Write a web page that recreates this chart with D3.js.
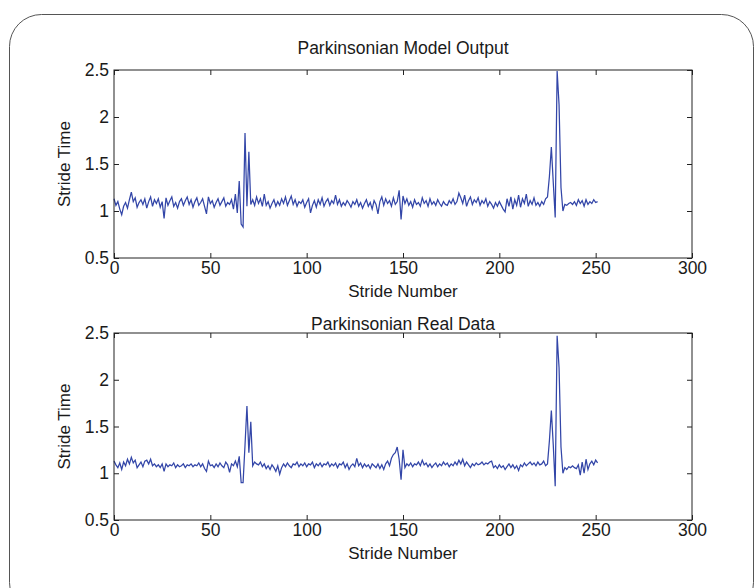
<!DOCTYPE html>
<html>
<head>
<meta charset="utf-8">
<script src="https://cdn.jsdelivr.net/npm/d3@7"></script>
<style>
  html, body { margin: 0; padding: 0; background: #ffffff; }
  svg { display: block; }
  text { font-family: "Liberation Sans", Arial, sans-serif; fill: #1a1a1a; }
</style>
</head>
<body>
<svg id="chart" width="755" height="588"></svg>
<script>
// Stride times (s) for each stride, index = stride number
const modelOutput = [
  1.13, 1.06, 1.10, 1.02, 0.96, 1.05, 1.09, 1.03, 1.12, 1.20,
  1.10, 1.14, 1.04, 1.09, 1.12, 1.07, 1.13, 1.03, 1.10, 1.15,
  1.05, 1.12, 1.08, 1.13, 1.04, 1.10, 0.92, 1.14, 1.06, 1.11,
  1.15, 1.05, 1.09, 1.03, 1.10, 1.13, 1.06, 1.11, 1.15, 1.07,
  1.12, 1.04, 1.10, 1.14, 1.06, 1.09, 1.13, 1.05, 0.97, 1.15,
  1.08, 1.11, 1.04, 1.09, 1.13, 1.06, 1.10, 1.14, 1.05, 1.09,
  1.07, 1.12, 1.02, 1.18, 0.98, 1.32, 0.86, 0.83, 1.83, 1.05,
  1.63, 1.07, 1.12, 1.06, 1.15, 1.08, 1.13, 1.05, 1.18, 1.06,
  1.10, 1.03, 1.08, 1.12, 1.05, 1.10, 1.06, 1.13, 1.08, 1.15,
  1.06, 1.11, 1.16, 1.07, 1.12, 1.05, 1.10, 1.08, 1.12, 1.04,
  1.09, 1.13, 0.98, 1.06, 1.11, 1.04, 1.12, 1.07, 1.14, 1.05,
  1.10, 1.13, 1.06, 1.11, 1.08, 1.17, 1.07, 1.12, 1.05, 1.09,
  1.06, 1.11, 1.08, 1.04, 1.10, 1.07, 1.12, 1.05, 1.09, 1.03,
  1.08, 1.12, 1.05, 1.09, 1.02, 1.11, 1.07, 0.97, 1.10, 1.15,
  1.06, 1.13, 1.08, 1.11, 1.05, 1.14, 1.07, 1.10, 1.22, 0.91,
  1.16, 1.08, 1.13, 1.06, 1.10, 1.04, 1.12, 1.07, 1.09, 1.05,
  1.14, 1.08, 1.11, 1.05, 1.13, 1.07, 1.10, 1.06, 1.12, 1.08,
  1.05, 1.10, 1.07, 1.06, 1.11, 1.08, 1.13, 1.07, 1.10, 1.19,
  1.14, 1.08, 1.17, 1.05, 1.11, 1.15, 1.07, 1.12, 1.09, 1.14,
  1.06, 1.11, 1.08, 1.13, 1.05, 1.10, 1.07, 1.03, 1.09, 1.05,
  1.10, 1.06, 1.02, 0.99, 1.13, 1.05, 1.15, 1.02, 1.12, 1.06,
  1.17, 1.04, 1.13, 1.08, 1.18, 1.05, 1.11, 1.07, 1.14, 1.06,
  1.09, 1.05, 1.10, 1.07, 1.13, 1.15, 1.37, 1.68, 1.30, 0.93,
  2.49, 2.13, 1.25, 1.00, 1.07, 1.06, 1.08, 1.09, 1.07, 1.10,
  1.06, 1.12, 1.08, 1.11, 1.05, 1.12, 1.07, 1.10, 1.08, 1.12,
  1.09, 1.10
];

const realData = [
  1.13, 1.09, 1.06, 1.11, 1.04, 1.12, 1.08, 1.15, 1.10, 1.17,
  1.11, 1.14, 1.06, 1.09, 1.12, 1.07, 1.13, 1.14, 1.10, 1.15,
  1.08, 1.10, 1.07, 1.09, 1.06, 1.10, 1.02, 1.10, 1.07, 1.09,
  1.08, 1.11, 1.06, 1.09, 1.07, 1.08, 1.10, 1.06, 1.09, 1.08,
  1.10, 1.07, 1.09, 1.08, 1.11, 1.07, 1.10, 1.05, 1.02, 1.13,
  1.08, 1.09, 1.06, 1.10, 1.07, 1.11, 1.08, 1.06, 1.12, 1.09,
  1.01, 1.10, 1.08, 1.13, 1.07, 1.18, 0.90, 0.90, 1.30, 1.72,
  1.22, 1.55, 1.08, 1.12, 1.10, 1.09, 1.12, 1.07, 1.10, 1.05,
  1.08, 1.04, 1.09, 1.06, 1.02, 1.08, 0.99, 1.06, 1.10, 1.07,
  1.11, 1.08, 1.06, 1.10, 1.09, 1.12, 1.07, 1.10, 1.08, 1.11,
  1.07, 1.10, 1.09, 1.12, 1.06, 1.10, 1.08, 1.11, 1.07, 1.10,
  1.09, 1.12, 1.07, 1.10, 1.08, 1.11, 1.06, 1.10, 1.09, 1.12,
  1.06, 1.10, 1.04, 1.08, 1.10, 1.07, 1.16, 1.08, 1.11, 1.06,
  1.10, 1.07, 1.09, 1.05, 1.10, 1.08, 1.06, 1.10, 1.05, 1.09,
  1.04, 1.10, 1.13, 1.08, 1.16, 1.20, 1.22, 1.28, 1.15, 0.93,
  1.25, 1.06, 1.10, 1.08, 1.11, 1.07, 1.10, 1.09, 1.12, 1.08,
  1.14, 1.09, 1.11, 1.07, 1.10, 1.06, 1.09, 1.11, 1.07, 1.10,
  1.08, 1.12, 1.09, 1.11, 1.07, 1.10, 1.08, 1.12, 1.09, 1.14,
  1.10, 1.15, 1.08, 1.12, 1.09, 1.06, 1.10, 1.08, 1.11, 1.09,
  1.10, 1.12, 1.09, 1.11, 1.10, 1.12, 1.13, 1.06, 1.08, 1.05,
  1.09, 1.06, 1.08, 1.04, 1.07, 1.10, 1.06, 1.09, 1.05, 1.08,
  1.03, 1.09, 1.07, 1.11, 1.08, 1.10, 1.12, 1.09, 1.11, 1.08,
  1.12, 1.09, 1.10, 1.13, 1.08, 1.10, 1.35, 1.67, 1.30, 0.86,
  2.47, 2.13, 1.28, 1.00, 1.06, 1.04, 1.07, 1.06, 1.08, 1.06,
  1.05, 1.09, 0.98, 1.12, 1.00, 1.15, 1.04, 1.10, 1.13, 1.09,
  1.14, 1.11
];

const panelTitles = ["Parkinsonian Model Output", "Parkinsonian Real Data"];
const xTickValues = [0, 50, 100, 150, 200, 250, 300];
const xTickLabels = ["0", "50", "100", "150", "200", "250", "300"];
const yTickValues = [0.5, 1, 1.5, 2, 2.5];
const yTickLabels = ["0.5", "1", "1.5", "2", "2.5"];
const xLabel = "Stride Number";
const yLabel = "Stride Time";

const svg = d3.select("#chart");

// Rounded outer frame
svg.append("rect")
  .attr("x", 9.5).attr("y", 14.5)
  .attr("width", 744).attr("height", 600)
  .attr("rx", 32).attr("ry", 32)
  .attr("fill", "none")
  .attr("stroke", "#555").attr("stroke-width", 1);

const left = 114, right = 692;
const panels = [
  { top: 70, bottom: 258, data: modelOutput, title: panelTitles[0], titleY: 54 },
  { top: 333, bottom: 520, data: realData, title: panelTitles[1], titleY: 330 }
];

const x = d3.scaleLinear().domain([0, 300]).range([left, right]);

panels.forEach(p => {
  const y = d3.scaleLinear().domain([0.5, 2.5]).range([p.bottom, p.top]);
  const g = svg.append("g");

  // series line
  const line = d3.line().x((d, i) => x(i)).y(d => y(d));
  g.append("path")
    .datum(p.data)
    .attr("d", line)
    .attr("fill", "none")
    .attr("stroke", "#3346a8")
    .attr("stroke-width", 1.25)
    .attr("stroke-linejoin", "miter");

  const tickFmtX = (d, i) => xTickLabels[i];
  const tickFmtY = (d, i) => yTickLabels[i];

  // inward ticks on all four sides
  const axB = g.append("g").attr("transform", `translate(0,${p.bottom})`)
    .call(d3.axisBottom(x).tickValues(xTickValues).tickFormat(tickFmtX)
      .tickSizeInner(-5).tickSizeOuter(0).tickPadding(4));
  const axT = g.append("g").attr("transform", `translate(0,${p.top})`)
    .call(d3.axisTop(x).tickValues(xTickValues).tickFormat(() => "")
      .tickSizeInner(-5).tickSizeOuter(0));
  const axL = g.append("g").attr("transform", `translate(${left},0)`)
    .call(d3.axisLeft(y).tickValues(yTickValues).tickFormat(tickFmtY)
      .tickSizeInner(-5).tickSizeOuter(0).tickPadding(5));
  const axR = g.append("g").attr("transform", `translate(${right},0)`)
    .call(d3.axisRight(y).tickValues(yTickValues).tickFormat(() => "")
      .tickSizeInner(-5).tickSizeOuter(0));

  [axB, axT, axL, axR].forEach(a => {
    a.select(".domain").remove();
    a.selectAll("line").attr("stroke", "#222");
    a.selectAll("text")
      .style("font-family", '"Liberation Sans", Arial, sans-serif')
      .style("font-size", "17.5px")
      .attr("fill", "#1a1a1a");
  });

  // axes box
  g.append("rect")
    .attr("x", left).attr("y", p.top)
    .attr("width", right - left).attr("height", p.bottom - p.top)
    .attr("fill", "none").attr("stroke", "#222").attr("stroke-width", 1);

  // title
  g.append("text")
    .attr("x", (left + right) / 2).attr("y", p.titleY)
    .attr("text-anchor", "middle")
    .style("font-size", "17.5px")
    .text(p.title);

  // x label
  g.append("text")
    .attr("x", (left + right) / 2).attr("y", p.bottom + 39)
    .attr("text-anchor", "middle")
    .style("font-size", "17px")
    .text(xLabel);

  // y label
  g.append("text")
    .attr("transform", `translate(70,${(p.top + p.bottom) / 2}) rotate(-90)`)
    .attr("text-anchor", "middle")
    .style("font-size", "17px")
    .text(yLabel);
});
</script>
</body>
</html>
